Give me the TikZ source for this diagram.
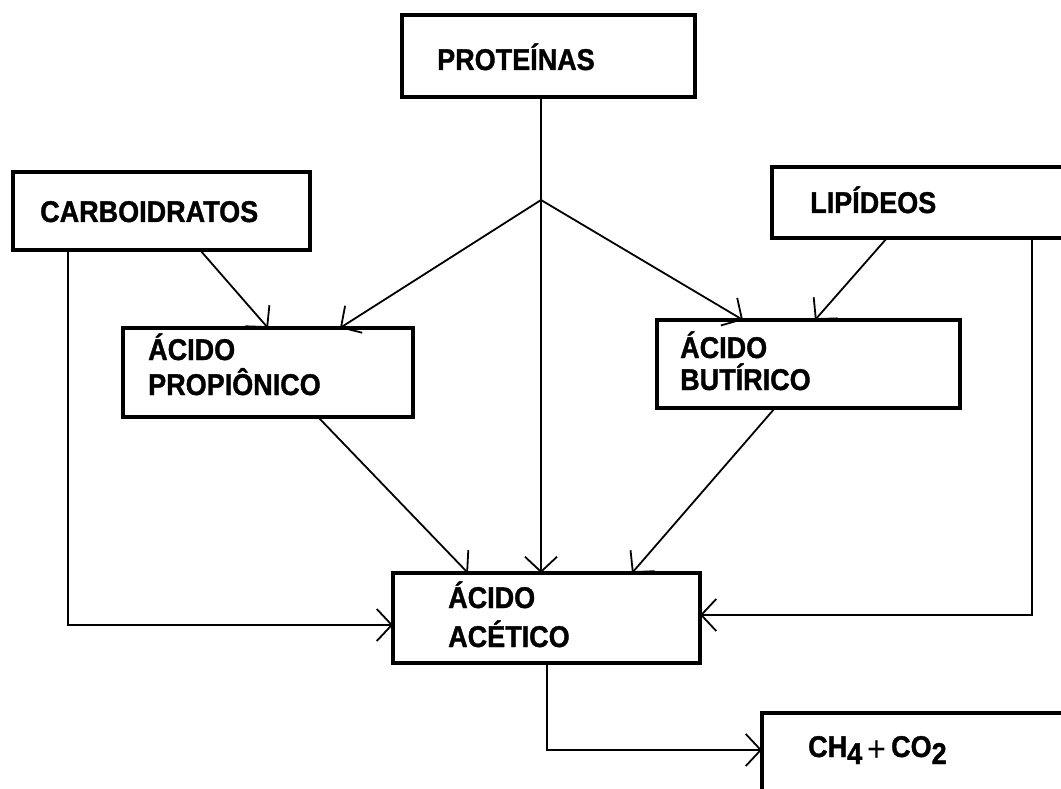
\documentclass[tikz,border=0pt]{standalone}
\usepackage{fontspec}
\setmainfont{Liberation Sans}[FakeStretch=0.9,BoldFeatures={FakeBold=1.2}]
\usetikzlibrary{arrows.meta}
\begin{document}
\begin{tikzpicture}[x=1pt,y=-1pt,
  box/.style={draw,line width=4.5pt,rectangle,anchor=north west,outer sep=0pt,inner sep=0pt},
  lbl/.style={anchor=base west,inner sep=0pt,font=\fontsize{30}{30}\selectfont\bfseries,align=left},
  conn/.style={line width=1.8pt},
  arr/.style={conn,-{Straight Barb[length=15pt,width=32pt,line width=1.8pt]}}]
\useasboundingbox (0,0) rectangle (1061,789);
\clip (0,0) rectangle (1061,789);
\fill[white] (0,0) rectangle (1061,789);
% boxes
\node[box,minimum width=293pt,minimum height=82pt] (prot) at (402,15) {};
\node[box,minimum width=297pt,minimum height=78pt] (carb) at (13,172) {};
\node[box,minimum width=310pt,minimum height=71pt] (lip) at (772,167) {};
\node[box,minimum width=290pt,minimum height=89pt] (prop) at (123,328) {};
\node[box,minimum width=303pt,minimum height=88pt] (but) at (657,320) {};
\node[box,minimum width=307pt,minimum height=90pt] (acet) at (393,573) {};
\node[box,minimum width=320pt,minimum height=100pt] (ch) at (762,713) {};
% labels
\node[lbl] (protT) at (437,70) {PROTEÍNAS};
\node[lbl] (carbT) at (40,222) {CARBOIDRATOS};
\node[lbl] (lipT) at (810,213) {LIPÍDEOS};
\node[lbl] (propT1) at (148,360) {ÁCIDO};
\node[lbl] (propT2) at (148,395) {PROPIÔNICO};
\node[lbl] (butT1) at (680,358) {ÁCIDO};
\node[lbl] (butT2) at (680,390) {BUTÍRICO};
\node[lbl] (acetT1) at (448,608) {ÁCIDO};
\node[lbl] (acetT2) at (448,647) {ACÉTICO};
\node[lbl] (chT) at (808,757) {CH\raisebox{-7pt}{4}\,\raisebox{-4pt}{\mdseries\fontsize{36}{36}\selectfont +}\,CO\raisebox{-7pt}{2}};
% connectors
\coordinate (br) at ([xshift=-7.5pt,yshift=-103pt]prot.south);
\draw[arr] ([xshift=-7.5pt]prot.south) -- ([xshift=-7.5pt]prot.south |- acet.north);
\draw[arr] (br) -- ([xshift=217pt]prop.north west);
\draw[arr] (br) -- ([xshift=86pt]but.north west);
\draw[arr] ([xshift=187pt]carb.south west) -- ([xshift=145pt]prop.north west);
\draw[arr] ([xshift=115pt]lip.south west) -- ([xshift=158pt]but.north west);
\draw[arr] ([xshift=55pt]carb.south west) |- ([yshift=-52pt]acet.north west);
\draw[arr] ([xshift=260pt]lip.south west) |- ([yshift=-42pt]acet.north east);
\draw[arr] ([xshift=195pt]prop.south west) -- ([xshift=75pt]acet.north west);
\draw[arr] ([xshift=118pt]but.south west) -- ([xshift=239pt]acet.north west);
\draw[arr] ([xshift=154pt]acet.south west) |- ([yshift=-37pt]ch.north west);
\end{tikzpicture}
\end{document}
